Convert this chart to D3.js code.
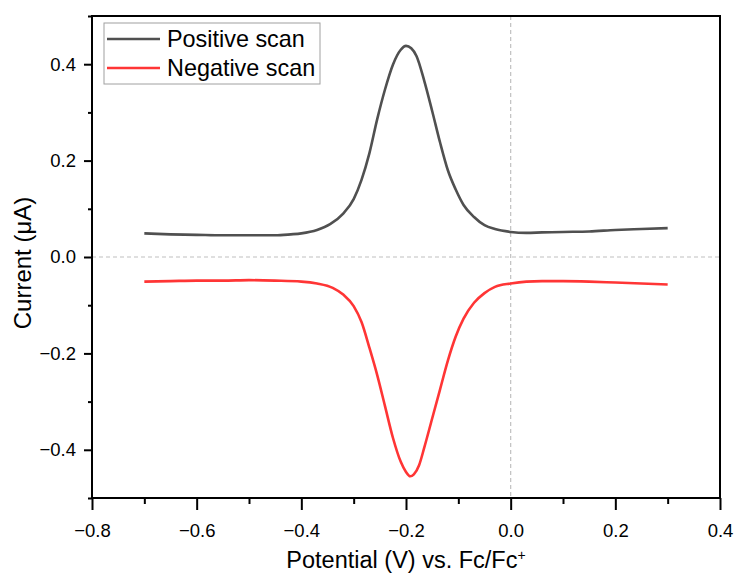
<!DOCTYPE html>
<html>
<head>
<meta charset="utf-8">
<script src="https://cdn.jsdelivr.net/npm/d3@7"></script>
<style>
  body { margin: 0; background: #fff; }
  svg text { font-family: Arial, "Liberation Sans", sans-serif; fill: #000; }
</style>
</head>
<body>
<svg id="chart" width="738" height="573"></svg>
<script>
// data
var posPotential = [-0.70, -0.65, -0.60, -0.55, -0.50, -0.45, -0.42, -0.40, -0.37, -0.345, -0.32, -0.30, -0.285,
    -0.27, -0.255, -0.24, -0.225, -0.21, -0.20, -0.19, -0.18, -0.165, -0.15, -0.135, -0.12, -0.105, -0.09,
    -0.07, -0.05, -0.03, 0.00, 0.03, 0.06, 0.10, 0.15, 0.20, 0.25, 0.30];
var posCurrent = [0.049, 0.047, 0.046, 0.045, 0.045, 0.045, 0.047, 0.049, 0.056, 0.068, 0.090, 0.120, 0.160,
    0.215, 0.286, 0.348, 0.399, 0.430, 0.438, 0.433, 0.417, 0.365, 0.303, 0.238, 0.180, 0.140, 0.108,
    0.083, 0.066, 0.058, 0.052, 0.050, 0.051, 0.052, 0.053, 0.056, 0.058, 0.060];

var negPotential = [-0.70, -0.65, -0.60, -0.55, -0.50, -0.45, -0.40, -0.37, -0.34, -0.32, -0.30, -0.285, -0.27,
    -0.255, -0.24, -0.225, -0.21, -0.20, -0.192, -0.185, -0.175, -0.165, -0.15, -0.135, -0.12, -0.105, -0.09,
    -0.07, -0.05, -0.03, 0.00, 0.03, 0.06, 0.10, 0.15, 0.20, 0.25, 0.30];
var negCurrent = [-0.051, -0.050, -0.049, -0.049, -0.048, -0.049, -0.051, -0.055, -0.064, -0.078, -0.102, -0.135, -0.188,
    -0.245, -0.310, -0.375, -0.425, -0.446, -0.455, -0.451, -0.432, -0.395, -0.335, -0.275, -0.215, -0.165, -0.128,
    -0.095, -0.075, -0.062, -0.055, -0.051, -0.050, -0.050, -0.051, -0.053, -0.055, -0.057];

var xTicks = [-0.8, -0.6, -0.4, -0.2, 0.0, 0.2, 0.4];
var xMinorTicks = [-0.7, -0.5, -0.3, -0.1, 0.1, 0.3];
var yTicks = [-0.4, -0.2, 0.0, 0.2, 0.4];
var yMinorTicks = [-0.5, -0.3, -0.1, 0.1, 0.3, 0.5];
var seriesNames = ["Positive scan", "Negative scan"];
var seriesColors = ["#505050", "#ff3535"];

var svg = d3.select("#chart");
var plotLeft = 92, plotRight = 720, plotTop = 16, plotBottom = 498;

var xScale = d3.scaleLinear().domain([-0.8, 0.4]).range([plotLeft, plotRight]);
var yScale = d3.scaleLinear().domain([-0.5, 0.5]).range([plotBottom, plotTop]);

function fmt(d) { return d3.format(".1f")(d).replace("-", "\u2212"); }

// dashed zero lines
svg.append("line")
    .attr("x1", xScale(0)).attr("x2", xScale(0))
    .attr("y1", plotTop).attr("y2", plotBottom)
    .attr("stroke", "#c0c0c0").attr("stroke-width", 1.2).attr("stroke-dasharray", "4,3");
svg.append("line")
    .attr("x1", plotLeft).attr("x2", plotRight)
    .attr("y1", yScale(0)).attr("y2", yScale(0))
    .attr("stroke", "#c0c0c0").attr("stroke-width", 1.2).attr("stroke-dasharray", "4,3");

// curves
var line = d3.line()
    .x(function (d) { return xScale(d[0]); })
    .y(function (d) { return yScale(d[1]); })
    .curve(d3.curveMonotoneX);

var series = [d3.zip(posPotential, posCurrent), d3.zip(negPotential, negCurrent)];
series.forEach(function (s, i) {
    svg.append("path")
        .datum(s)
        .attr("d", line)
        .attr("fill", "none")
        .attr("stroke", seriesColors[i])
        .attr("stroke-width", 2.6)
        .attr("stroke-linejoin", "round");
});

// axes
var xAxis = d3.axisBottom(xScale).tickValues(xTicks).tickSize(12).tickPadding(14).tickFormat(fmt);
var xMinor = d3.axisBottom(xScale).tickValues(xMinorTicks).tickSize(6).tickFormat("");
var yAxis = d3.axisLeft(yScale).tickValues(yTicks).tickSize(8).tickPadding(8).tickFormat(fmt);
var yMinor = d3.axisLeft(yScale).tickValues(yMinorTicks).tickSize(4).tickFormat("");

function styleAxis(g) {
    g.select(".domain").remove();
    g.selectAll(".tick line").attr("stroke", "#000").attr("stroke-width", 2);
    g.selectAll(".tick text").style("font-size", "18.5px").attr("fill", "#000");
}

svg.append("g").attr("transform", "translate(0," + plotBottom + ")").call(xAxis).call(styleAxis);
svg.append("g").attr("transform", "translate(0," + plotBottom + ")").call(xMinor).call(styleAxis);
svg.append("g").attr("transform", "translate(" + plotLeft + ",0)").call(yAxis).call(styleAxis);
svg.append("g").attr("transform", "translate(" + plotLeft + ",0)").call(yMinor).call(styleAxis);

// frame
svg.append("rect")
    .attr("x", plotLeft).attr("y", plotTop)
    .attr("width", plotRight - plotLeft).attr("height", plotBottom - plotTop)
    .attr("fill", "none").attr("stroke", "#000").attr("stroke-width", 2);

// axis titles
var xt = svg.append("text")
    .attr("x", (plotLeft + plotRight) / 2).attr("y", 568)
    .attr("text-anchor", "middle")
    .style("font-size", "23.5px");
xt.append("tspan").text("Potential (V) vs. Fc/Fc");
xt.append("tspan").attr("baseline-shift", "super").style("font-size", "14px").text("+");

svg.append("text")
    .attr("transform", "translate(31,263) rotate(-90)")
    .attr("text-anchor", "middle")
    .style("font-size", "24px")
    .text("Current (\u03bcA)");

// legend
var legend = svg.append("g");
legend.append("rect")
    .attr("x", 104).attr("y", 23).attr("width", 216).attr("height", 61)
    .attr("fill", "#fff").attr("stroke", "#a0a0a0").attr("stroke-width", 1);
seriesNames.forEach(function (name, i) {
    var y = 39 + i * 29;
    legend.append("line")
        .attr("x1", 107).attr("x2", 160).attr("y1", y).attr("y2", y)
        .attr("stroke", seriesColors[i]).attr("stroke-width", 2.6);
    legend.append("text")
        .attr("x", 167).attr("y", y + 8)
        .style("font-size", "23.4px")
        .text(name);
});
</script>
</body>
</html>
